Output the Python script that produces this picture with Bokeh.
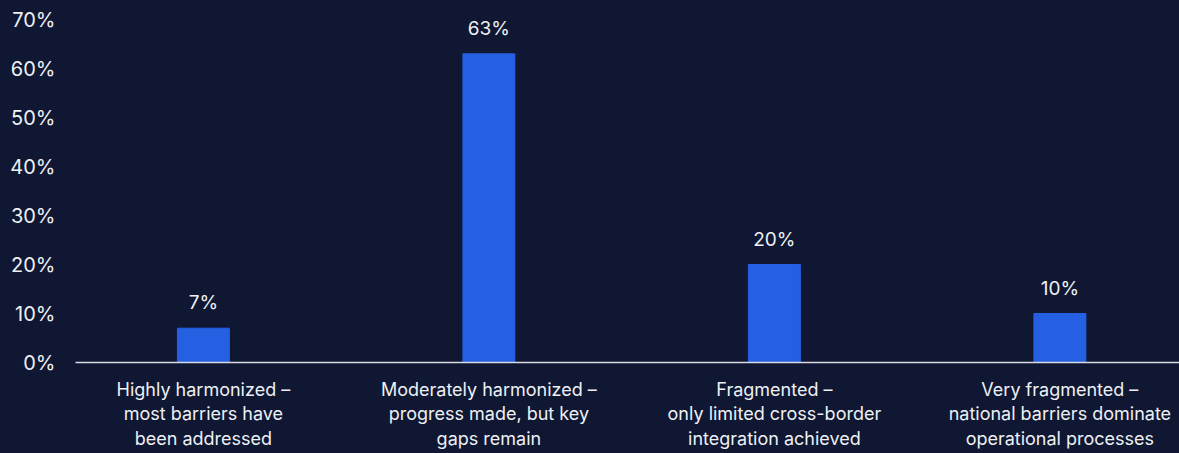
from bokeh.plotting import figure
from bokeh.models import Range1d, FixedTicker, ColumnDataSource
from bokeh.core.properties import value
from bokeh.embed import file_html
from bokeh.resources import INLINE

categories = [
    "Highly harmonized –\nmost barriers have\nbeen addressed",
    "Moderately harmonized –\nprogress made, but key\ngaps remain",
    "Fragmented –\nonly limited cross-border\nintegration achieved",
    "Very fragmented –\nnational barriers dominate\noperational processes",
]
values = [7, 63, 20, 10]
y_ticks = [0, 10, 20, 30, 40, 50, 60, 70]

BG = "#0f1732"
BAR = "#255fe2"
TXT = "#eef0f4"
FONT = "Inter"

xs = [i + 0.5 for i in range(len(categories))]
src = ColumnDataSource(dict(x=xs, v=values, lab=[f"{v}%" for v in values]))

p = figure(width=1179, height=453, output_backend="svg", toolbar_location=None,
           x_range=Range1d(0.052, 3.919), y_range=Range1d(0, 70),
           min_border_left=75, min_border_right=0, min_border_top=19, min_border_bottom=91)
p.background_fill_color = BG
p.border_fill_color = BG
p.outline_line_color = None
p.grid.visible = False

p.vbar(x="x", top="v", width=0.182, bottom=0, source=src, color=BAR)
p.text(x="x", y="v", text="lab", source=src, y_offset=-14, text_align="center",
       text_baseline="bottom", text_color=TXT, text_font=value(FONT), text_font_size="19px")

p.xaxis.ticker = FixedTicker(ticks=xs)
p.xaxis.major_label_overrides = {x: c for x, c in zip(xs, categories)}
p.xaxis.major_tick_line_color = None
p.xaxis.major_tick_out = 0
p.xaxis.major_tick_in = 0
p.xaxis.minor_tick_line_color = None
p.xaxis.axis_line_color = "#d8dbe3"
p.xaxis.axis_line_width = 1.5
p.xaxis.major_label_text_color = TXT
p.xaxis.major_label_text_font = FONT
p.xaxis.major_label_text_font_size = "18px"
p.xaxis.major_label_standoff = 16
p.xaxis.major_label_text_line_height = 1.17

p.yaxis.ticker = FixedTicker(ticks=y_ticks)
p.yaxis.major_label_overrides = {t: f"{t}%" for t in y_ticks}
p.yaxis.axis_line_color = None
p.yaxis.major_tick_line_color = None
p.yaxis.major_tick_out = 0
p.yaxis.major_tick_in = 0
p.yaxis.minor_tick_line_color = None
p.yaxis.major_label_text_color = TXT
p.yaxis.major_label_text_font = FONT
p.yaxis.major_label_text_font_size = "20px"
p.yaxis.major_label_standoff = 20

tmpl = """{% block preamble %}<style>html,body{margin:0;padding:0;background:#0f1732;}</style>{% endblock %}"""

open("out.html", "w").write(file_html(p, INLINE, template=tmpl))
